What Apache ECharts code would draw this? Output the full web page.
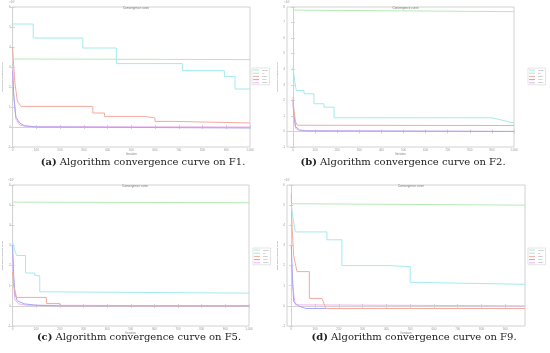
<!DOCTYPE html>
<html><head><meta charset="utf-8">
<script src="https://cdn.jsdelivr.net/npm/echarts@6/dist/echarts.min.js"></script>
<style>html,body{margin:0;padding:0;background:#fff}#c{width:550px;height:353px}</style>
</head><body><div id="c"></div>
<script>
// ---- data ----
var algNames = ["IChOA", "GA", "PSO", "WOA", "ChOA"];
var algColors = ["#a2eaee", "#b4ebb4", "#f3ab9e", "#a6a6f2", "#eeb2ee"];
var captionsTag = ["(a)", "(b)", "(c)", "(d)"];
var captionsText = [" Algorithm convergence curve on F1.", " Algorithm convergence curve on F2.", " Algorithm convergence curve on F5.", " Algorithm convergence curve on F9."];
var xTicks = [0,100,200,300,400,500,600,700,800,900,1000];
var xTicksD = [0,100,200,300,400,500,600,700,800,900];

// F1
var f1_cyan_x = [0,87,87,296,296,437,437,715,715,892,892,937,937,1000];
var f1_cyan_y = [5.15,5.15,4.45,4.45,3.95,3.95,3.17,3.17,2.82,2.82,2.53,2.53,1.9,1.9];
var f1_green_x = [0,1000];
var f1_green_y = [3.4,3.37];
var f1_orange_x = [0,5,10,20,35,338,338,387,387,556,556,600,600,683,683,1000];
var f1_orange_y = [4.0,3.0,2.2,1.3,1.03,1.03,0.7,0.7,0.53,0.53,0.45,0.45,0.28,0.28,0.2,0.2];
var f1_blue_x = [0,5,14,30,49,100,1000];
var f1_blue_y = [2.8,1.6,0.5,0.2,0.07,0.0,-0.05];
var f1_mag_x = [0,5,14,30,60,1000];
var f1_mag_y = [3.0,1.5,0.4,0.1,0.02,0.0];

// F2
var f2_cyan_x = [0,8,15,50,50,95,95,140,140,186,186,900,1000];
var f2_cyan_y = [4.13,3.2,2.63,2.63,2.42,2.42,1.78,1.78,1.56,1.56,0.88,0.88,0.54];
var f2_green_x = [0,1000];
var f2_green_y = [7.8,7.7];
var f2_orange_x = [0,5,12,20,1000];
var f2_orange_y = [2.2,1.3,0.6,0.4,0.38];
var f2_blue_x = [0,5,12,30,60,1000];
var f2_blue_y = [2.0,1.0,0.3,0.1,0.03,0.0];
var f2_mag_x = [0,5,12,30,1000];
var f2_mag_y = [1.8,0.8,0.2,0.05,0.0];

// F5
var f5_cyan_x = [0,8,17,55,55,94,94,115,115,1000];
var f5_cyan_y = [3.17,2.8,2.5,2.5,1.63,1.63,1.5,1.5,0.7,0.63];
var f5_green_x = [0,1000];
var f5_green_y = [5.15,5.12];
var f5_orange_x = [0,5,17,143,143,200,200,1000];
var f5_orange_y = [1.67,1.0,0.42,0.42,0.12,0.12,0.0,0.0];
var f5_blue_x = [0,5,10,20,50,100,200,1000];
var f5_blue_y = [3.0,1.5,0.6,0.25,0.1,0.03,0.0,0.0];
var f5_mag_x = [0,5,10,25,60,1000];
var f5_mag_y = [2.5,1.0,0.3,0.1,0.03,0.0];

// F9
var f9_cyan_x = [0,8,17,150,150,213,213,400,400,500,500,983];
var f9_cyan_y = [5.0,4.3,3.67,3.67,3.28,3.28,2.0,2.0,1.95,1.95,1.17,1.07];
var f9_green_x = [0,983];
var f9_green_y = [5.07,5.0];
var f9_orange_x = [0,3,10,24,76,76,129,145,983];
var f9_orange_y = [5.53,4.0,2.5,1.7,1.7,0.37,0.37,-0.13,-0.13];
var f9_blue_x = [0,5,10,30,60,983];
var f9_blue_y = [3.0,1.5,0.2,0.0,-0.13,-0.13];
var f9_mag_x = [0,5,17,983];
var f9_mag_y = [2.0,1.0,0.05,0.0];

var panelData = [
  [[f1_cyan_x,f1_cyan_y],[f1_green_x,f1_green_y],[f1_orange_x,f1_orange_y],[f1_blue_x,f1_blue_y],[f1_mag_x,f1_mag_y]],
  [[f2_cyan_x,f2_cyan_y],[f2_green_x,f2_green_y],[f2_orange_x,f2_orange_y],[f2_blue_x,f2_blue_y],[f2_mag_x,f2_mag_y]],
  [[f5_cyan_x,f5_cyan_y],[f5_green_x,f5_green_y],[f5_orange_x,f5_orange_y],[f5_blue_x,f5_blue_y],[f5_mag_x,f5_mag_y]],
  [[f9_cyan_x,f9_cyan_y],[f9_green_x,f9_green_y],[f9_orange_x,f9_orange_y],[f9_blue_x,f9_blue_y],[f9_mag_x,f9_mag_y]]
];

// ---- layout ----
var panels = [
  {grid:{left:12,top:7,width:238,height:140}, xmin:0, xmax:1000, ymin:-1, ymax:6, ticks:xTicks, leg:{left:252,top:68}, cap:{x:143,y:162}},
  {grid:{left:287,top:7,width:227,height:140}, xmin:-27, xmax:1000, ymin:-1, ymax:8, ticks:xTicks, leg:{left:528,top:68}, cap:{x:403,y:162}},
  {grid:{left:11,top:185,width:238,height:141}, xmin:0, xmax:1000, ymin:-1, ymax:6, ticks:xTicks, leg:{left:253,top:248}, cap:{x:139,y:337}},
  {grid:{left:287,top:185,width:238,height:141}, xmin:-18, xmax:983, ymin:-1, ymax:6, ticks:xTicksD, leg:{left:528,top:248}, cap:{x:414,y:337}}
];

var grids=[], xAxes=[], yAxes=[], series=[], titles=[], legends=[], graphics=[];
panels.forEach(function(p, i){
  grids.push(Object.assign({show:true, borderColor:"#d2d2d2", borderWidth:1, containLabel:false}, p.grid));
  xAxes.push({type:"value", gridIndex:i, min:p.xmin, max:p.xmax, position:"bottom",
    name:"Iteration", nameLocation:"middle", nameGap:6, nameTextStyle:{fontSize:3, color:"#888"},
    axisLine:{show:true, lineStyle:{color:"#d2d2d2"}}, splitLine:{show:false},
    axisTick:{show:true, inside:true, length:2, customValues:p.ticks, lineStyle:{color:"#d2d2d2"}},
    axisLabel:{fontSize:3, color:"#999", margin:2, customValues:p.ticks}});
  xAxes.push({type:"value", gridIndex:i, min:p.xmin, max:p.xmax, position:"top",
    axisLine:{show:false}, splitLine:{show:false},
    axisTick:{show:true, inside:true, length:2, customValues:p.ticks, lineStyle:{color:"#d2d2d2"}},
    axisLabel:{show:false}});
  yAxes.push({type:"value", gridIndex:i, min:p.ymin, max:p.ymax, interval:1, position:"left",
    name:"Best score obtained so far", nameLocation:"middle", nameGap:7, nameRotate:90,
    nameTextStyle:{fontSize:2.5, color:"#888"},
    axisLine:{show:true, lineStyle:{color:"#d2d2d2"}}, splitLine:{show:false},
    axisTick:{show:true, inside:true, length:2, lineStyle:{color:"#d2d2d2"}},
    axisLabel:{fontSize:3, color:"#999", margin:2}});
  yAxes.push({type:"value", gridIndex:i, min:p.ymin, max:p.ymax, interval:1, position:"right",
    axisLine:{show:false}, splitLine:{show:false},
    axisTick:{show:true, inside:true, length:2, lineStyle:{color:"#d2d2d2"}},
    axisLabel:{show:false}});
  titles.push({text:"Convergence curve", left:p.grid.left + p.grid.width/2, top:p.grid.top-5, textAlign:"center",
    textStyle:{fontSize:3, fontWeight:"normal", color:"#777"}});
  graphics.push({type:"text", left:p.grid.left-3, top:p.grid.top-6, style:{text:"×10⁴", fontSize:3, fill:"#999"}});
  legends.push({left:p.leg.left, top:p.leg.top, orient:"vertical", data:algNames,
    itemWidth:6, itemHeight:1, itemGap:1.2, padding:[1,1,1,1], borderColor:"#c8c8c8", borderWidth:0.5,
    backgroundColor:"#fff", icon:"rect", textStyle:{fontSize:2.2, color:"#888", padding:[0,0,0,-2]}, selectedMode:false});
  panelData[i].forEach(function(s, k){
    var pts = s[0].map(function(x, j){ return [x, s[1][j]]; });
    series.push({type:"line", name:algNames[k], xAxisIndex:2*i, yAxisIndex:2*i, data:pts,
      showSymbol:false, symbol:"none", lineStyle:{width:1, color:algColors[k]}, itemStyle:{color:algColors[k]},
      z:10-k, animation:false, silent:true});
  });
  graphics.push({type:"text", x:p.cap.x, y:p.cap.y,
    style:{text:"{b|"+captionsTag[i]+"}"+captionsText[i], textAlign:"center", textVerticalAlign:"middle",
      font:"10px 'DejaVu Serif'", fill:"#222",
      rich:{b:{fontWeight:"bold", fontSize:10, fontFamily:"DejaVu Serif", fill:"#222"}}}});
});

var chart = echarts.init(document.getElementById("c"), null, {renderer:"canvas"});
chart.setOption({
  animation:false,
  title:titles, grid:grids, xAxis:xAxes, yAxis:yAxes, legend:legends, series:series, graphic:graphics
});
</script></body></html>
